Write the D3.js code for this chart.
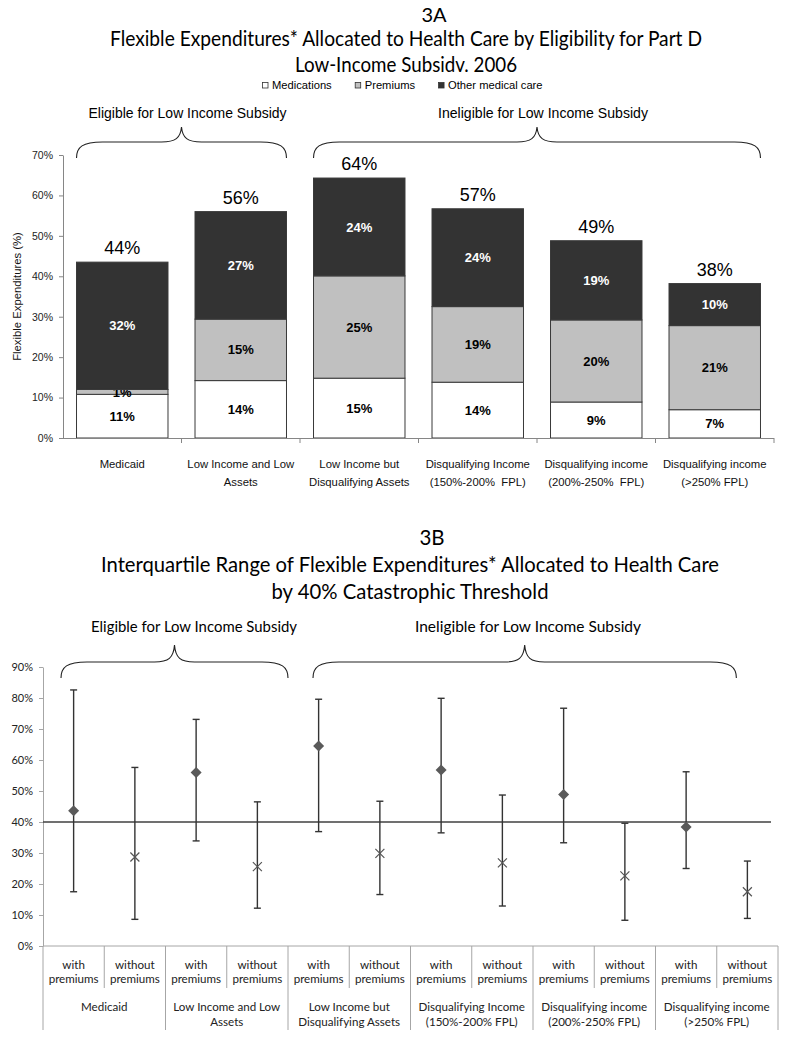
<!DOCTYPE html>
<html><head><meta charset="utf-8">
<script src="https://cdn.jsdelivr.net/npm/d3@7"></script>
<style>body{margin:0;background:#fff}</style>
</head><body><svg id="c" width="795" height="1050"></svg>
<script>
// ---------- DATA ----------
const categories = ["Medicaid","Low Income and Low Assets","Low Income but Disqualifying Assets","Disqualifying Income (150%-200% FPL)","Disqualifying income (200%-250% FPL)","Disqualifying income (>250% FPL)"];
const topCategoryLines = [["Medicaid"],["Low Income and Low","Assets"],["Low Income but","Disqualifying Assets"],["Disqualifying Income","(150%-200%  FPL)"],["Disqualifying income","(200%-250%  FPL)"],["Disqualifying income","(>250% FPL)"]];
const bottomCategoryLines = [["Medicaid"],["Low Income and Low","Assets"],["Low Income but","Disqualifying Assets"],["Disqualifying Income","(150%-200% FPL)"],["Disqualifying income","(200%-250% FPL)"],["Disqualifying income","(>250% FPL)"]];
const seriesNames = ["Medications","Premiums","Other medical care"];
const medications = [10.8,14.2,14.8,13.8,8.9,7.0];
const premiums    = [1.2,15.2,25.3,18.7,20.3,20.8];
const otherCare   = [31.5,26.6,24.2,24.2,19.6,10.4];
const medLabels   = ["11%","14%","15%","14%","9%","7%"];
const premLabels  = ["1%","15%","25%","19%","20%","21%"];
const otherLabels = ["32%","27%","24%","24%","19%","10%"];
const totalLabels = ["44%","56%","64%","57%","49%","38%"];
const topTicks = [0,10,20,30,40,50,60,70];

const subgroups = ["with premiums","without premiums"];
const subgroupLines = [["with","premiums"],["without","premiums"]];
const withMedian    = [43.6,56.0,64.5,56.8,48.9,38.4];
const withQ1        = [17.5,33.9,36.9,36.5,33.3,25.0];
const withQ3        = [82.6,73.1,79.6,79.9,76.7,56.2];
const withoutMedian = [28.7,25.6,29.9,26.8,22.6,17.5];
const withoutQ1     = [8.6,12.2,16.6,12.9,8.3,8.9];
const withoutQ3     = [57.6,46.5,46.7,48.7,39.6,27.4];
const bottomTicks = [0,10,20,30,40,50,60,70,80,90];
const threshold = 40;
const groupNames = ["Eligible for Low Income Subsidy","Ineligible for Low Income Subsidy"];

// ---------- HELPERS ----------
const svg = d3.select("#c");
svg.append("rect").attr("width",795).attr("height",1050).attr("fill","#fff");
const TITLE_FONT = "Lato, 'Open Sans', sans-serif";
const ARIAL = "'Liberation Sans', Arial, sans-serif";
function fit(sel, w){ sel.each(function(){ const l=this.getComputedTextLength(); const fs=parseFloat(this.getAttribute("font-size")); this.setAttribute("font-size", (fs*w/l).toFixed(2)); }); return sel; }
function squeeze(sel, w){ return sel.attr("textLength",w).attr("lengthAdjust","spacingAndGlyphs"); }
function txt(g, x, y, s, size, fam, anchor){ return g.append("text").attr("x",x).attr("y",y).attr("font-size",size).attr("font-family",fam).attr("text-anchor",anchor||"middle").attr("fill","#000").text(s); }
function brace(g, x1, x2, yEnd, yH, yTip){
  const xm=(x1+x2)/2, rx=26, cr=20;
  const p = `M${x1},${yEnd} C${x1},${yH+5} ${x1+6},${yH} ${x1+rx},${yH} L${xm-cr},${yH} C${xm-6},${yH} ${xm-1},${yH-4} ${xm},${yTip} C${xm+1},${yH-4} ${xm+6},${yH} ${xm+cr},${yH} L${x2-rx},${yH} C${x2-6},${yH} ${x2},${yH+5} ${x2},${yEnd}`;
  g.append("path").attr("d",p).attr("fill","none").attr("stroke","#222").attr("stroke-width",1.1);
}

// ---------- 3A TITLE ----------
txt(svg,434,22,"3A",20,TITLE_FONT);
squeeze(txt(svg,406,46,"Flexible Expenditures* Allocated to Health Care by Eligibility for Part  D",20.5,TITLE_FONT),592);
squeeze(txt(svg,406,72,"Low-Income Subsidv. 2006",20.5,TITLE_FONT),222);

// legend
const legColors = ["#ffffff","#c0c0c0","#333333"];
let lx = 262;
seriesNames.forEach((n,i)=>{
  svg.append("rect").attr("x",lx+0.5).attr("y",82.5).attr("width",5.5).attr("height",5.5).attr("fill",legColors[i]).attr("stroke","#333").attr("stroke-width",0.8);
  const t = txt(svg,lx+10,89,n,11.2,ARIAL,"start");
  lx += 10 + t.node().getComputedTextLength() + 23;
});

// ---------- 3A CHART ----------
const yA = d3.scaleLinear().domain([0,70]).range([438,155]);
const xA = d3.scaleBand().domain(categories).range([63,774]).paddingInner(0.228).paddingOuter(0.114);
const rows = categories.map((c,i)=>({cat:c, med:medications[i], prem:premiums[i], other:otherCare[i]}));
const stack = d3.stack().keys(["med","prem","other"])(rows);
const segLabels = [medLabels,premLabels,otherLabels];
const gA = svg.append("g");
stack.forEach((layer,li)=>{
  gA.selectAll(null).data(layer).enter().append("rect")
    .attr("x",d=>xA(d.data.cat)).attr("width",xA.bandwidth())
    .attr("y",d=>yA(d[1])).attr("height",d=>yA(d[0])-yA(d[1]))
    .attr("fill",legColors[li]).attr("stroke","#3a3a3a").attr("stroke-width",1);
  gA.selectAll(null).data(layer).enter().append("text")
    .attr("x",d=>xA(d.data.cat)+xA.bandwidth()/2)
    .attr("y",d=>(yA(d[0])+yA(d[1]))/2+4.6)
    .attr("text-anchor","middle").attr("font-family",ARIAL).attr("font-size",13).attr("font-weight","bold")
    .attr("fill",li===2?"#fff":"#000")
    .text((d,i)=>segLabels[li][i]);
});
gA.selectAll(null).data(stack[2]).enter().append("text")
  .attr("x",d=>xA(d.data.cat)+xA.bandwidth()/2).attr("y",d=>yA(d[1])-8)
  .attr("text-anchor","middle").attr("font-family",ARIAL).attr("font-size",18).attr("fill","#000")
  .text((d,i)=>totalLabels[i]);

// y axis
const axA = svg.append("g").attr("transform","translate(63,0)")
  .call(d3.axisLeft(yA).tickValues(topTicks).tickFormat(d=>d+"%").tickSize(4).tickSizeOuter(0).tickPadding(6));
axA.select(".domain").attr("stroke","#868686");
axA.selectAll(".tick line").attr("stroke","#868686");
axA.selectAll("text").attr("font-family",ARIAL).attr("font-size",10.5).attr("fill","#222");
// x axis line + boundary ticks
const offA = (xA.step()-xA.bandwidth())/2;
svg.append("line").attr("x1",63).attr("x2",774).attr("y1",yA(0)+0.5).attr("y2",yA(0)+0.5).attr("stroke","#868686");
const boundsA = categories.map(c=>xA(c)-offA).concat([xA(categories[5])+xA.bandwidth()+offA]);
svg.selectAll(null).data(boundsA.slice(1)).enter().append("line")
  .attr("x1",d=>d).attr("x2",d=>d).attr("y1",yA(0)).attr("y2",yA(0)+5).attr("stroke","#868686");
categories.forEach((c,i)=>{
  topCategoryLines[i].forEach((ln,j)=>{
    txt(svg,xA(c)+xA.bandwidth()/2,468+j*18,ln,11.3,ARIAL).attr("fill","#111").style("white-space","pre");
  });
});
// y title
svg.append("text").attr("transform",`translate(21,${(yA(0)+yA(70))/2}) rotate(-90)`)
  .attr("text-anchor","middle").attr("font-family",ARIAL).attr("font-size",11.3).attr("fill","#111")
  .text("Flexible Expenditures (%)");

// braces top
const bw = xA.bandwidth();
const bA1 = [xA(categories[0]), xA(categories[1])+bw], bA2 = [xA(categories[2]), xA(categories[5])+bw];
brace(svg,bA1[0],bA1[1],158,142,127);
brace(svg,bA2[0],bA2[1],158,142,127);
squeeze(txt(svg,(bA1[0]+bA1[1])/2+6,118,groupNames[0],14,ARIAL),198);
squeeze(txt(svg,(bA2[0]+bA2[1])/2+6,118,groupNames[1],14,ARIAL),210);

// ---------- 3B TITLE ----------
txt(svg,432,545,"3B",20.5,TITLE_FONT);
squeeze(txt(svg,410,572,"Interquartile Range of Flexible Expenditures* Allocated to Health Care",20.5,TITLE_FONT),618);
squeeze(txt(svg,410,599,"by 40% Catastrophic Threshold",20.5,TITLE_FONT),277);

// ---------- 3B CHART ----------
const yB = d3.scaleLinear().domain([0,90]).range([946,667]);
const xG = d3.scaleBand().domain(categories).range([43,778]);
const xS = d3.scaleBand().domain(subgroups).range([0,xG.bandwidth()]);
const gridC = "#a6a6a6";
const axB = svg.append("g").attr("transform","translate(43,0)")
  .call(d3.axisLeft(yB).tickValues(bottomTicks).tickFormat(d=>d+"%").tickSize(4).tickSizeOuter(0).tickPadding(6));
axB.select(".domain").attr("stroke",gridC);
axB.selectAll(".tick line").attr("stroke",gridC);
axB.selectAll("text").attr("font-family",TITLE_FONT).attr("font-size",11).attr("fill","#222");
// extended axis framework
svg.append("line").attr("x1",43).attr("x2",778).attr("y1",yB(0)).attr("y2",yB(0)).attr("stroke",gridC);
const groupBounds = categories.map(c=>xG(c)).concat([xG(categories[5])+xG.bandwidth()]);
svg.selectAll(null).data(groupBounds).enter().append("line")
  .attr("x1",d=>d).attr("x2",d=>d).attr("y1",yB(0)).attr("y2",1030).attr("stroke",gridC);
svg.selectAll(null).data(categories).enter().append("line")
  .attr("x1",c=>xG(c)+xS(subgroups[1])).attr("x2",c=>xG(c)+xS(subgroups[1])).attr("y1",yB(0)).attr("y2",988).attr("stroke",gridC);
categories.forEach((c,i)=>{
  subgroups.forEach((s,k)=>{
    subgroupLines[k].forEach((ln,j)=>{
      txt(svg,xG(c)+xS(s)+xS.bandwidth()/2,969+j*14,ln,11.6,TITLE_FONT).attr("fill","#222");
    });
  });
  bottomCategoryLines[i].forEach((ln,j)=>{
    txt(svg,xG(c)+xG.bandwidth()/2,1011+j*14.5,ln,11.6,TITLE_FONT).attr("fill","#222");
  });
});
// threshold line
svg.append("line").attr("x1",43).attr("x2",771).attr("y1",yB(threshold)).attr("y2",yB(threshold)).attr("stroke","#404040").attr("stroke-width",1.5);

// error bars
const pts = [];
categories.forEach((c,i)=>{
  pts.push({x:xG(c)+xS(subgroups[0])+xS.bandwidth()/2, m:withMedian[i], q1:withQ1[i], q3:withQ3[i], type:0});
  pts.push({x:xG(c)+xS(subgroups[1])+xS.bandwidth()/2, m:withoutMedian[i], q1:withoutQ1[i], q3:withoutQ3[i], type:1});
});
const gB = svg.append("g");
pts.forEach(p=>{
  gB.append("line").attr("x1",p.x).attr("x2",p.x).attr("y1",yB(p.q1)).attr("y2",yB(p.q3)).attr("stroke","#333").attr("stroke-width",1.4);
  [p.q1,p.q3].forEach(v=>gB.append("line").attr("x1",p.x-3.5).attr("x2",p.x+3.5).attr("y1",yB(v)).attr("y2",yB(v)).attr("stroke","#333").attr("stroke-width",1.4));
  const cy = yB(p.m);
  if(p.type===0){
    gB.append("path").attr("d",`M${p.x},${cy-5.5} L${p.x+5.5},${cy} L${p.x},${cy+5.5} L${p.x-5.5},${cy} Z`).attr("fill","#5a5a5a");
  } else {
    gB.append("path").attr("d",`M${p.x-4.5},${cy-4.5} L${p.x+4.5},${cy+4.5} M${p.x-4.5},${cy+4.5} L${p.x+4.5},${cy-4.5}`).attr("stroke","#555").attr("stroke-width",1.2);
  }
});

// braces bottom
const b1 = [xG(categories[0])+18, xG(categories[1])+xG.bandwidth()];
const b2 = [xG(categories[2])+25, xG(categories[5])+xS(subgroups[1])+xS.bandwidth()/2-11];
brace(svg,b1[0],b1[1],678,662,645);
brace(svg,b2[0],b2[1],678,662,645);
squeeze(txt(svg,194,632,groupNames[0],14.5,TITLE_FONT),206);
squeeze(txt(svg,528,632,groupNames[1],14.5,TITLE_FONT),226);
</script></body></html>
